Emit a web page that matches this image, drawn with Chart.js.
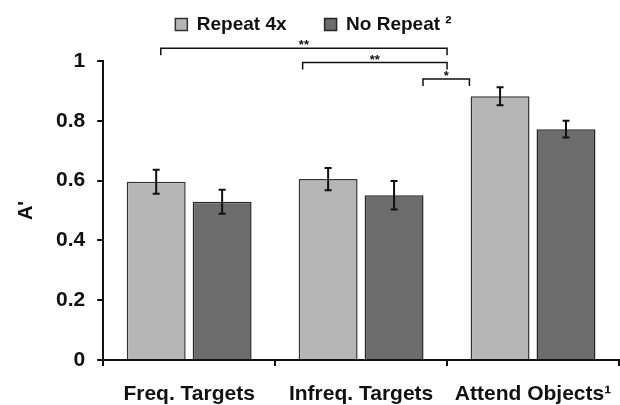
<!DOCTYPE html>
<html>
<head>
<meta charset="utf-8">
<script src="https://cdn.jsdelivr.net/npm/chart.js@4.4.0/dist/chart.umd.min.js"></script>
<style>
  html, body { margin: 0; padding: 0; background: #fff; }
  #wrap { width: 620px; height: 405px; }
</style>
</head>
<body>
<div id="wrap"><canvas id="c" width="620" height="405"></canvas></div>
<script>
// data
const categories = ['Freq. Targets', 'Infreq. Targets', 'Attend Objects\u00b9'];
const repeat4x = [0.596, 0.605, 0.882];
const noRepeat = [0.529, 0.551, 0.772];
const errRepeat = [0.040, 0.037, 0.030];
const errNoRepeat = [0.040, 0.048, 0.028];
const yTicks = [0, 0.2, 0.4, 0.6, 0.8, 1];

// significance brackets: [x start, x end (category index units), y level, label]
const brackets = [
    [-0.165, 1.5, 1.043, '**'],
    [0.66, 1.5, 0.995, '**'],
    [1.36, 1.63, 0.94, '*']
];

const LEGEND_H = 84;

// legend needs wide gaps between items but a short box
const legendFit = {
    id: 'legendFit',
    beforeLayout(chart) {
        const l = chart.legend;
        if (l && !l._fitPatched) {
            const orig = l.fit;
            l.fit = function () { orig.call(this); this.height = LEGEND_H; };
            l._fitPatched = true;
        }
    }
};

const errorBars = {
    id: 'errorBars',
    afterDatasetsDraw(chart) {
        const ctx = chart.ctx;
        const y = chart.scales.y;
        const errs = [errRepeat, errNoRepeat];
        ctx.save();
        ctx.strokeStyle = '#111';
        ctx.lineWidth = 2;
        chart.data.datasets.forEach((ds, i) => {
            chart.getDatasetMeta(i).data.forEach((bar, j) => {
                const v = ds.data[j];
                const top = y.getPixelForValue(v + errs[i][j]);
                const bot = y.getPixelForValue(v - errs[i][j]);
                ctx.beginPath();
                ctx.moveTo(bar.x, top); ctx.lineTo(bar.x, bot);
                ctx.moveTo(bar.x - 3.5, top); ctx.lineTo(bar.x + 3.5, top);
                ctx.moveTo(bar.x - 3.5, bot); ctx.lineTo(bar.x + 3.5, bot);
                ctx.stroke();
            });
        });
        ctx.restore();
    }
};

const sigBrackets = {
    id: 'sigBrackets',
    afterDraw(chart) {
        const ctx = chart.ctx;
        const x = chart.scales.x, y = chart.scales.y;
        ctx.save();
        ctx.strokeStyle = '#111';
        ctx.fillStyle = '#111';
        ctx.lineWidth = 1.5;
        ctx.font = 'bold 13px "Liberation Sans", Arial, sans-serif';
        ctx.textAlign = 'center';
        ctx.textBaseline = 'bottom';
        brackets.forEach(b => {
            const x1 = x.getPixelForValue(b[0]);
            const x2 = x.getPixelForValue(b[1]);
            const yy = y.getPixelForValue(b[2]);
            ctx.beginPath();
            ctx.moveTo(x1, yy + 7); ctx.lineTo(x1, yy);
            ctx.lineTo(x2, yy); ctx.lineTo(x2, yy + 7);
            ctx.stroke();
            ctx.fillText(b[3], (x1 + x2) / 2, yy + 4);
        });
        ctx.restore();
    }
};

const family = '"Liberation Sans", Arial, sans-serif';
const tickFont = { family: family, weight: 'bold', size: 21 };

new Chart(document.getElementById('c'), {
    type: 'bar',
    data: {
        labels: categories,
        datasets: [
            {
                label: 'Repeat 4x',
                data: repeat4x,
                backgroundColor: '#b6b6b6',
                borderColor: '#333',
                borderWidth: 1.5,
                barPercentage: 0.894,
                categoryPercentage: 0.767
            },
            {
                label: 'No Repeat \u00b2',
                data: noRepeat,
                backgroundColor: '#6c6c6c',
                borderColor: '#262626',
                borderWidth: 1.5,
                barPercentage: 0.894,
                categoryPercentage: 0.767
            }
        ]
    },
    options: {
        responsive: false,
        animation: false,
        layout: { padding: { top: -23, right: 1, left: 8, bottom: 0 } },
        plugins: {
            legend: {
                display: true,
                position: 'top',
                labels: {
                    font: { family: family, weight: 'bold', size: 19 },
                    color: '#111',
                    boxWidth: 12,
                    boxHeight: 12,
                    padding: 38
                }
            },
            tooltip: { enabled: false }
        },
        scales: {
            x: {
                afterFit: axis => {
                    axis.paddingLeft = 0;
                    axis.paddingRight = 0;
                    axis.height = 45;
                },
                grid: {
                    drawOnChartArea: false,
                    drawTicks: true,
                    tickLength: 6,
                    color: '#111',
                    lineWidth: 2,
                    offset: true
                },
                border: { color: '#111', width: 2 },
                ticks: { font: tickFont, color: '#111', padding: 16 }
            },
            y: {
                min: 0,
                max: 1,
                afterBuildTicks: axis => { axis.ticks = yTicks.map(v => ({ value: v })); },
                grid: {
                    drawOnChartArea: false,
                    drawTicks: true,
                    tickLength: 6,
                    color: '#111',
                    lineWidth: 2
                },
                border: { color: '#111', width: 2 },
                ticks: { font: tickFont, color: '#111', padding: 12, callback: v => String(v) },
                title: { display: true, text: "A'", font: { family: family, weight: 'bold', size: 20 }, color: '#111', padding: 6 }
            }
        }
    },
    plugins: [legendFit, errorBars, sigBrackets]
});
</script>
</body>
</html>
